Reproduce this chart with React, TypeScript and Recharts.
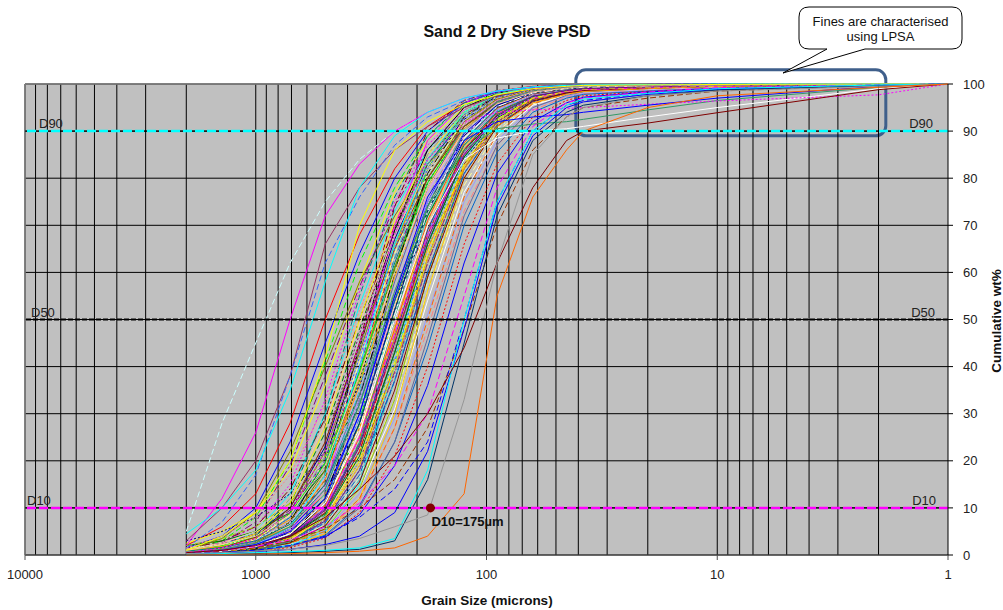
import React from "react";
import {
  LineChart,
  Line,
  XAxis,
  YAxis,
  CartesianGrid,
  ReferenceLine,
  ReferenceDot,
  ReferenceArea,
} from "recharts";

const FONT = "Arial, 'Liberation Sans', sans-serif";

// sieve apertures (µm), coarse to fine; the last few come from LPSA
const SIEVE_SIZES = [2000, 1400, 1000, 710, 500, 355, 250, 180, 125, 90, 63, 45, 38, 20, 10, 2, 1];

const X_TICKS = [10000, 1000, 100, 10, 1];
const Y_TICKS = [0, 10, 20, 30, 40, 50, 60, 70, 80, 90, 100];
const DECADES = [1, 10, 100, 1000];
const GRID_STEPS = [2, 3, 4, 5, 6, 7, 8, 9, 10];

// cumulative wt% at each sieve size, one row per sample
const MAIN_SAMPLES = [
  [2, 6, 13, 28, 50, 68, 82, 91, 96, 98.5, 99.5, 99.7, 99.8, 99.9, 100, 100, 100],
  [1.5, 4, 10, 24, 45, 64, 80, 90, 96, 98.3, 99.4, 99.7, 99.8, 99.9, 100, 100, 100],
  [1, 3, 8, 20, 41, 62, 78, 89, 95.5, 98, 99.2, 99.6, 99.7, 99.8, 99.9, 100, 100],
  [2.5, 5, 9, 18, 36, 58, 77, 88, 95, 97.8, 99, 99.5, 99.7, 99.8, 99.9, 100, 100],
  [1, 2.5, 6, 15, 33, 56, 75, 87, 94.5, 97.5, 99, 99.5, 99.6, 99.8, 99.9, 100, 100],
  [0.8, 2, 5, 13, 30, 53, 73, 86, 94, 97.5, 98.9, 99.4, 99.6, 99.7, 99.9, 100, 100],
  [1.2, 3, 6, 14, 29, 50, 70, 84, 93.5, 97.2, 98.8, 99.4, 99.6, 99.7, 99.8, 100, 100],
  [0.6, 1.8, 4, 11, 26, 48, 69, 84, 93, 97, 98.8, 99.3, 99.5, 99.7, 99.8, 100, 100],
  [1, 2, 4.5, 10, 23, 45, 67, 83, 92.5, 96.8, 98.7, 99.3, 99.5, 99.7, 99.8, 100, 100],
  [0.5, 1.5, 3.5, 9, 22, 43, 66, 82, 92, 96.5, 98.6, 99.2, 99.4, 99.6, 99.8, 100, 100],
  [1.5, 2.5, 4.5, 9.5, 20, 40, 63, 80, 91.5, 96.5, 98.6, 99.2, 99.5, 99.7, 99.8, 100, 100],
  [0.7, 1.6, 3.2, 8, 19, 39, 62, 80, 91, 96, 98.4, 99.1, 99.4, 99.6, 99.8, 100, 100],
  [0.4, 1.2, 2.8, 7, 17, 37, 61, 79, 91, 96, 98.3, 99, 99.3, 99.6, 99.8, 100, 100],
  [1, 2, 3.5, 7.5, 17, 36, 59, 78, 90.5, 95.8, 98.2, 99, 99.3, 99.6, 99.8, 100, 100],
  [0.5, 1.3, 2.7, 6.5, 16, 34, 58, 77, 90, 95.5, 98, 98.9, 99.2, 99.5, 99.7, 100, 100],
  [0.8, 1.5, 3, 6.5, 15, 33, 56, 76, 89.5, 95.3, 98, 98.9, 99.2, 99.5, 99.7, 100, 100],
  [0.3, 1, 2.4, 6, 14.5, 32, 55, 75, 89, 95, 97.8, 98.8, 99.1, 99.4, 99.7, 99.9, 100],
  [1.2, 2, 3.2, 6.2, 14, 30, 53, 74, 88.5, 94.8, 97.8, 98.7, 99, 99.4, 99.7, 99.9, 100],
  [0.6, 1.2, 2.5, 5.5, 13, 29, 52, 73, 88, 94.5, 97.6, 98.6, 99, 99.4, 99.6, 99.9, 100],
  [0.4, 1, 2, 5, 12, 28, 51, 72, 87.5, 94.3, 97.5, 98.6, 99, 99.3, 99.6, 99.9, 100],
  [0.9, 1.6, 2.6, 5.2, 11.5, 27, 49, 71, 87, 94, 97.5, 98.5, 98.9, 99.3, 99.6, 99.9, 100],
  [0.5, 1.1, 2.1, 4.6, 11, 26, 48, 70, 86.5, 93.8, 97.4, 98.5, 98.9, 99.3, 99.6, 99.9, 100],
  [0.3, 0.8, 1.8, 4.2, 10.5, 25, 47, 69, 86, 93.5, 97.2, 98.4, 98.8, 99.2, 99.6, 99.9, 100],
  [0.7, 1.3, 2.3, 4.5, 10, 24, 46, 68, 85.5, 93.3, 97.2, 98.4, 98.8, 99.2, 99.5, 99.9, 100],
  [0.4, 0.9, 1.7, 3.8, 9.5, 23, 44, 67, 85, 93, 97, 98.3, 98.7, 99.2, 99.5, 99.9, 100],
  [1, 1.5, 2.2, 4, 9, 22, 43, 66, 84.5, 92.8, 97, 98.3, 98.7, 99.1, 99.5, 99.9, 100],
  [0.3, 0.7, 1.5, 3.4, 8.5, 21, 42, 65, 84, 92.5, 96.8, 98.2, 98.6, 99.1, 99.5, 99.9, 100],
  [0.6, 1, 1.8, 3.6, 8, 20, 40, 63, 83, 92, 96.6, 98.1, 98.6, 99, 99.5, 99.9, 100],
  [0.2, 0.6, 1.3, 3, 7.5, 19, 38.5, 62, 82, 91.5, 96.4, 98, 98.5, 99, 99.4, 99.9, 100],
  [0.5, 0.9, 1.6, 3.2, 7.2, 18, 37, 60, 81, 91, 96.2, 97.9, 98.4, 98.9, 99.4, 99.9, 100],
  [0.3, 0.6, 1.2, 2.7, 6.5, 16.5, 35, 58, 80, 90.5, 96, 97.8, 98.3, 98.9, 99.4, 99.9, 100],
  [0.8, 1.2, 1.8, 3, 6.2, 15, 33, 56, 78.5, 90, 95.8, 97.7, 98.3, 98.8, 99.3, 99.9, 100],
  [0.2, 0.5, 1, 2.3, 5.5, 14, 31, 54, 77, 89, 95.5, 97.6, 98.2, 98.8, 99.3, 99.9, 100],
  [0.4, 0.7, 1.2, 2.4, 5.2, 13, 29, 51, 75, 88, 95, 97.4, 98, 98.7, 99.2, 99.9, 100],
  [0.2, 0.4, 0.9, 2, 4.6, 11.5, 27, 48, 73, 87, 94.5, 97.2, 97.9, 98.6, 99.2, 99.8, 100],
  [0.3, 0.6, 1, 2, 4.2, 10.5, 24, 44, 70, 85.5, 94, 97, 97.8, 98.5, 99.1, 99.8, 100],
  [0.2, 0.4, 0.8, 1.6, 3.6, 9, 21, 40, 66, 83, 93, 96.5, 97.5, 98.4, 99, 99.8, 100],
  [0.5, 0.8, 1.2, 2, 3.8, 8.5, 19, 36, 62, 81, 92, 96, 97.2, 98.3, 99, 99.8, 100],
  [0.5, 1, 2, 3.5, 8, 28, 60, 82, 94, 97.5, 99, 99.5, 99.7, 99.8, 99.9, 100, 100],
  [0.3, 0.6, 1, 2.5, 6, 22, 52, 78, 93, 97.5, 99, 99.5, 99.6, 99.8, 99.9, 100, 100],
  [1, 1.5, 2.5, 5, 14, 40, 70, 88, 96, 98.5, 99.4, 99.7, 99.8, 99.9, 100, 100, 100],
  [0.2, 0.5, 1, 2, 5, 15, 40, 68, 88, 95.5, 98.4, 99.2, 99.4, 99.6, 99.8, 100, 100],
  [0.4, 1, 2.2, 5.5, 16, 45, 74, 90, 96.5, 98.6, 99.4, 99.7, 99.8, 99.9, 100, 100, 100],
  [2, 3, 5, 9, 18, 34, 55, 72, 86, 93, 97, 98.5, 99, 99.4, 99.7, 99.9, 100],
  [3, 5, 8, 13, 22, 36, 54, 70, 84, 92, 96.5, 98.2, 98.8, 99.3, 99.6, 99.9, 100],
  [1, 3.5, 9, 22, 40, 58, 72, 83, 91, 95.5, 98, 99, 99.3, 99.6, 99.8, 100, 100],
  [0.8, 2.5, 7, 19, 38, 57, 74, 86, 94, 97.5, 99, 99.5, 99.7, 99.8, 99.9, 100, 100],
  [0.5, 1.5, 4, 12, 30, 55, 76, 89, 96, 98.5, 99.4, 99.7, 99.8, 99.9, 100, 100, 100],
  [0.3, 1, 2.5, 7, 20, 44, 69, 86, 95, 98, 99.2, 99.6, 99.7, 99.8, 99.9, 100, 100],
  [0.6, 1.3, 2.5, 6, 16, 38, 65, 84, 94, 97.8, 99.1, 99.5, 99.7, 99.8, 99.9, 100, 100],
  [0.4, 0.8, 1.5, 4, 11, 30, 58, 80, 92.5, 97, 98.8, 99.4, 99.6, 99.7, 99.9, 100, 100],
  [0.2, 0.5, 1.2, 3, 9, 26, 54, 77, 91.5, 96.5, 98.7, 99.3, 99.5, 99.7, 99.8, 100, 100],
  [0.7, 1.2, 2, 4, 10, 25, 50, 73, 89, 95.5, 98.3, 99.1, 99.4, 99.6, 99.8, 100, 100],
  [0.3, 0.7, 1.4, 3.2, 8, 21, 45, 70, 88, 95, 98, 99, 99.3, 99.6, 99.8, 100, 100],
  [0.5, 0.9, 1.5, 3, 7, 18, 41, 66, 86, 94.5, 97.8, 98.8, 99.2, 99.5, 99.7, 100, 100],
  [0.2, 0.5, 1, 2.4, 6, 16, 37, 63, 84, 93.5, 97.5, 98.7, 99.1, 99.4, 99.7, 99.9, 100],
  [0.4, 0.7, 1.2, 2.5, 5.5, 14, 33, 59, 82, 92.5, 97, 98.5, 99, 99.4, 99.7, 99.9, 100],
  [0.2, 0.4, 0.8, 1.8, 4.5, 12, 30, 56, 80, 91.5, 96.5, 98.3, 98.8, 99.3, 99.6, 99.9, 100],
  [0.6, 1, 1.5, 2.5, 5, 12, 27, 50, 76, 89.5, 95.8, 98, 98.6, 99.2, 99.6, 99.9, 100],
  [0.3, 0.5, 0.9, 1.8, 4, 10, 24, 46, 72, 87, 95, 97.6, 98.3, 99, 99.5, 99.9, 100],
];

// second sampling campaign, same sieve stack
const EXTRA_SAMPLES = [
  [0.8, 2, 4.5, 11, 27, 50, 71, 85, 94, 97.8, 99.2, 99.6, 99.7, 99.8, 99.9, 100, 100],
  [0.5, 1.4, 3.5, 9, 24, 47, 69, 84, 93.5, 97.5, 99, 99.5, 99.7, 99.8, 99.9, 100, 100],
  [1.2, 2.5, 5, 12, 28, 49, 68, 82, 92, 96.8, 98.8, 99.4, 99.6, 99.7, 99.9, 100, 100],
  [0.3, 1, 2.8, 8, 21, 44, 68, 85, 94.5, 98, 99.3, 99.6, 99.7, 99.8, 99.9, 100, 100],
  [0.6, 1.5, 3.2, 8.5, 20, 41, 64, 81, 92, 96.8, 98.7, 99.3, 99.5, 99.7, 99.8, 100, 100],
  [1, 2, 3.8, 8.8, 19.5, 39, 61, 79, 91, 96.2, 98.5, 99.2, 99.4, 99.6, 99.8, 100, 100],
  [0.4, 1.1, 2.6, 7, 18, 38, 61, 80, 92, 96.8, 98.8, 99.4, 99.6, 99.7, 99.9, 100, 100],
  [0.7, 1.5, 3, 7, 16.5, 35, 58, 77, 90, 95.8, 98.3, 99.1, 99.4, 99.6, 99.8, 100, 100],
  [0.3, 0.9, 2.2, 6, 15, 34, 58, 78, 91, 96.3, 98.6, 99.3, 99.5, 99.7, 99.8, 100, 100],
  [1.5, 2.2, 3.4, 6.5, 14, 31, 54, 74, 88.5, 95, 97.9, 98.8, 99.1, 99.4, 99.7, 99.9, 100],
  [0.5, 1.1, 2.3, 5.5, 13, 30, 54, 75, 89.5, 95.5, 98.2, 99, 99.3, 99.6, 99.8, 100, 100],
  [0.3, 0.8, 1.9, 4.8, 12, 28, 52, 74, 89, 95.5, 98.2, 99, 99.3, 99.6, 99.8, 100, 100],
  [0.8, 1.4, 2.5, 5, 11.5, 26, 49, 71, 87, 94.5, 97.8, 98.8, 99.1, 99.4, 99.7, 99.9, 100],
  [0.4, 0.9, 1.9, 4.4, 10.5, 25, 48, 71, 87.5, 94.8, 98, 98.9, 99.2, 99.5, 99.7, 99.9, 100],
  [0.6, 1.1, 2, 4.2, 9.8, 23.5, 46, 69, 86, 94, 97.6, 98.7, 99, 99.4, 99.7, 99.9, 100],
  [0.2, 0.6, 1.4, 3.5, 9, 22, 45, 68, 86, 94, 97.7, 98.8, 99.1, 99.5, 99.7, 99.9, 100],
  [0.5, 1, 1.8, 3.8, 8.8, 21, 43, 66, 84.5, 93.2, 97.3, 98.6, 99, 99.3, 99.6, 99.9, 100],
  [0.3, 0.7, 1.5, 3.4, 8.2, 20, 42, 65, 84, 93, 97.3, 98.5, 98.9, 99.3, 99.6, 99.9, 100],
  [0.9, 1.3, 2, 3.6, 7.8, 19, 40, 63, 82.5, 92, 96.9, 98.3, 98.8, 99.2, 99.6, 99.9, 100],
  [0.2, 0.5, 1.2, 3, 7.2, 18, 39, 62, 82, 92, 96.8, 98.3, 98.8, 99.2, 99.6, 99.9, 100],
  [0.4, 0.8, 1.4, 3, 6.8, 17, 37, 60, 81, 91.3, 96.5, 98.1, 98.6, 99.1, 99.5, 99.9, 100],
  [0.3, 0.6, 1.1, 2.6, 6.2, 15.5, 35, 59, 80, 91, 96.4, 98.1, 98.6, 99.1, 99.5, 99.9, 100],
  [1, 1.8, 3, 6, 13, 27, 46, 65, 82, 91, 96, 97.8, 98.4, 99, 99.5, 99.9, 100],
  [2, 3.5, 6, 11, 21, 37, 56, 73, 87, 94, 97.6, 98.8, 99.1, 99.5, 99.7, 99.9, 100],
  [0.5, 1.5, 3.8, 10, 24, 45, 65, 80, 91, 96, 98.4, 99.2, 99.4, 99.6, 99.8, 100, 100],
  [1.5, 4, 8, 17, 32, 52, 70, 84, 93, 97, 98.8, 99.4, 99.6, 99.7, 99.9, 100, 100],
  [0.3, 0.8, 2, 6, 17, 40, 66, 84, 94, 97.8, 99.2, 99.6, 99.7, 99.8, 99.9, 100, 100],
  [0.2, 0.5, 1.3, 4, 12, 33, 60, 81, 93, 97.5, 99, 99.5, 99.6, 99.8, 99.9, 100, 100],
  [0.4, 0.8, 1.6, 4.5, 13, 35, 63, 83, 93.5, 97.6, 99.1, 99.5, 99.7, 99.8, 99.9, 100, 100],
  [0.2, 0.4, 1, 2.8, 8, 24, 50, 74, 90, 96, 98.5, 99.2, 99.4, 99.6, 99.8, 100, 100],
  [0.6, 1.2, 2.4, 5.5, 14, 33, 56, 75, 88, 94.5, 97.6, 98.7, 99, 99.4, 99.7, 99.9, 100],
  [0.3, 0.7, 1.6, 4, 10, 25, 47, 68, 85, 93, 97, 98.4, 98.8, 99.2, 99.6, 99.9, 100],
  [0.8, 1.6, 3, 6.5, 15, 32, 54, 73, 87, 94, 97.4, 98.6, 99, 99.4, 99.7, 99.9, 100],
  [0.4, 1.2, 3, 8, 20, 42, 65, 82, 93, 97.2, 98.9, 99.4, 99.6, 99.7, 99.9, 100, 100],
  [0.2, 0.6, 1.5, 4, 11, 28, 52, 73, 88, 95, 98, 98.9, 99.2, 99.5, 99.7, 99.9, 100],
  [0.5, 1, 2, 4.5, 11, 27, 51, 73, 88.5, 95.2, 98.1, 99, 99.3, 99.5, 99.7, 99.9, 100],
  [0.3, 0.7, 1.4, 3.2, 8, 20, 41, 64, 83, 92.5, 97, 98.5, 98.9, 99.3, 99.6, 99.9, 100],
  [0.4, 0.9, 1.8, 4, 9.5, 23, 45, 67, 85, 93.5, 97.4, 98.6, 99, 99.4, 99.7, 99.9, 100],
  [1, 2.2, 4, 8.5, 19, 38, 60, 78, 90, 95.8, 98.3, 99.1, 99.4, 99.6, 99.8, 100, 100],
  [0.6, 1.3, 2.6, 6, 14, 31, 55, 76, 90, 96, 98.5, 99.2, 99.4, 99.6, 99.8, 100, 100],
];

// samples lying at the coarse and fine edges of the envelope
const EDGE_SAMPLES = [
  [5, 28, 45, 62, 75, 84, 90, 94, 97, 98.5, 99.3, 99.6, 99.7, 99.8, 99.9, 100, 100],
  [2, 12, 26, 50, 72, 83, 90, 94, 97, 98.5, 99.3, 99.6, 99.7, 99.8, 99.9, 100, 100],
  [3, 10, 20, 38, 66, 78, 86, 91, 95, 97.5, 99, 99.5, 99.7, 99.8, 99.9, 100, 100],
  [1.5, 7, 17, 38, 62, 76, 87, 93, 96.5, 98.5, 99.3, 99.6, 99.7, 99.8, 99.9, 100, 100],
  [4.5, 10, 18, 35, 58, 78, 89, 94, 97, 98.5, 99.4, 99.7, 99.8, 99.9, 100, 100, 100],
  [1, 4, 9, 20, 42, 70, 86, 92, 95.7, 97.7, 99, 99.5, 99.7, 99.8, 99.9, 100, 100],
  [0.5, 1.2, 2.5, 6, 14, 32, 56, 74, 86, 90.5, 91.5, 92, 92.5, 94.5, 96.5, 99.3, 100],
  [0.3, 0.8, 1.8, 4.5, 11, 26, 50, 70, 84, 88.5, 90, 90.5, 91, 93, 95, 99, 100],
  [0.5, 1.5, 3.5, 9, 22, 45, 68, 84, 92, 94, 94.5, 94.8, 95, 95.7, 96.4, 97.7, 100],
  [0.4, 1, 2.2, 5, 12, 30, 55, 76, 88, 92, 93, 93.5, 94, 95.5, 97, 99.5, 100],
  [0.4, 0.8, 1.5, 3, 5.5, 10, 16, 27, 48, 70, 86, 93, 95, 97, 98.5, 99.7, 100],
  [0.3, 0.6, 1, 2, 4, 8, 14, 24, 50, 75, 90, 95.5, 96.5, 98, 99, 99.8, 100],
  [0.5, 1, 1.8, 3.2, 6, 11, 19, 30, 55, 78, 91, 96, 97, 98.3, 99.2, 99.8, 100],
  [0.2, 0.4, 0.7, 1.2, 2.2, 4, 9, 22, 48, 74, 89, 95, 96.2, 97.8, 98.8, 99.7, 100],
  [0.1, 0.2, 0.3, 0.5, 0.8, 1.2, 3, 16, 45, 72, 88, 94, 95.5, 97.5, 98.7, 99.7, 100],
  [0.2, 0.3, 0.5, 0.7, 1, 1.5, 3.5, 18, 50, 75, 90, 95.5, 96.8, 98, 99, 99.8, 100],
  [0.5, 1, 2, 4, 8, 14, 21, 30, 44, 62, 78, 88, 90, 91.7, 93.9, 98.8, 100],
  [0.3, 0.5, 0.8, 1.2, 2, 3.5, 6, 8.5, 33, 62, 85, 93, 95, 97.5, 98.5, 99.5, 100],
  [0, 0.1, 0.2, 0.3, 0.5, 0.8, 1.5, 4, 13, 55, 76, 86, 90, 95, 97.5, 99.3, 100],
];

const EDGE_COLORS = [
  "#CCFFFF", "#FF00FF", "#993366", "#3366FF", "#00FFFF", "#FFFF00", "#339966",
  "#FFFFFF", "#FF00FF", "#0000FF", "#993300", "#0000FF", "#FF00FF", "#0000FF",
  "#003366", "#00FFFF", "#800000", "#969696", "#FF6600",
];
const EDGE_DASHES = [
  "6 3", "", "", "6 3", "", "", "", "", "2 2", "", "6 3", "6 3", "6 3", "", "", "", "", "", "",
];

const PALETTE = [
  "#FF0000", "#0000FF", "#00FF00", "#FFFF00", "#FF00FF", "#00FFFF", "#800000", "#008000",
  "#000080", "#808000", "#800080", "#008080", "#000000", "#FF9900", "#99CCFF", "#FF99CC",
  "#CC99FF", "#FFCC99", "#3366FF", "#33CCCC", "#99CC00", "#FFCC00", "#FF6600", "#666699",
  "#969696", "#003366", "#339966", "#993300", "#993366", "#333399", "#CCFFCC", "#FFFF99",
  "#FFFFFF", "#9999FF", "#FF8080", "#0066CC",
];
const DASHES = ["", "", "6 3", "", "2 2", "", "8 3 2 3", "6 3"];

const GRID_SIZES = DECADES.flatMap((d) => GRID_STEPS.map((s) => d * s));

const toPoints = (values: number[]) =>
  SIEVE_SIZES.map((size, i) => ({ size, pct: values[i] }));

function DLabel({ viewBox, name, left, right }: any) {
  if (!viewBox) return null;
  const y = viewBox.y - 3;
  return (
    <g fontFamily={FONT} fontSize={13} fill="#222">
      <text x={viewBox.x + left} y={y}>{name}</text>
      <text x={viewBox.x + viewBox.width - right} y={y} textAnchor="end">{name}</text>
    </g>
  );
}

function DotLabel({ viewBox }: any) {
  if (!viewBox) return null;
  const cx = viewBox.x + viewBox.width / 2;
  const cy = viewBox.y + viewBox.height / 2;
  return (
    <text x={cx + 1} y={cy + 18} fontFamily={FONT} fontSize={13} fontWeight="bold" fill="#111">
      D10=175µm
    </text>
  );
}

function RoundedBox(props: any) {
  const x = Math.min(props.x, props.x + props.width);
  const y = Math.min(props.y, props.y + props.height);
  return (
    <rect
      x={x}
      y={y}
      width={Math.abs(props.width)}
      height={Math.abs(props.height)}
      rx={10}
      fill="none"
      stroke="#3F5F8B"
      strokeWidth={3}
    />
  );
}

function sampleLine(key: string, values: number[], color: string, dash: string) {
  return (
    <Line
      key={key}
      data={toPoints(values)}
      dataKey="pct"
      type="linear"
      stroke={color}
      strokeDasharray={dash}
      strokeWidth={1}
      dot={false}
      activeDot={false}
      isAnimationActive={false}
    />
  );
}

export default function App() {
  return (
    <div style={{ position: "absolute", left: 0, top: 0, width: 1003, height: 610, background: "#fff" }}>
      <LineChart
        width={1003}
        height={610}
        margin={{ top: 84, right: 0, bottom: 10, left: 25 }}
      >
        <CartesianGrid fill="#C0C0C0" stroke="#000" vertical={false} />
        <XAxis
          type="number"
          dataKey="size"
          scale="log"
          domain={[1, 10000]}
          reversed
          allowDataOverflow
          ticks={X_TICKS}
          height={45}
          tickSize={5}
          tickMargin={10}
          tick={{ fontSize: 13, fill: "#222", fontFamily: FONT }}
          axisLine={{ stroke: "#505050" }}
          tickLine={{ stroke: "#505050" }}
        />
        <YAxis
          orientation="right"
          type="number"
          domain={[0, 100]}
          ticks={Y_TICKS}
          width={55}
          tickSize={5}
          tickMargin={10}
          tick={{ fontSize: 13, fill: "#222", fontFamily: FONT }}
          axisLine={{ stroke: "#000" }}
          tickLine={{ stroke: "#000" }}
        />
        {/* log-scale vertical grid, 2..10 in every decade */}
        {GRID_SIZES.map((v) => (
          <ReferenceLine key={"g" + v} x={v} stroke="#000" strokeWidth={1} />
        ))}
        <ReferenceLine x={10000} stroke="#808080" strokeWidth={1.5} />
        <ReferenceLine y={100} stroke="#808080" strokeWidth={1.5} />

        {MAIN_SAMPLES.map((values, i) =>
          sampleLine("m" + i, values, PALETTE[i % PALETTE.length], DASHES[i % DASHES.length])
        )}
        {EXTRA_SAMPLES.map((values, i) =>
          sampleLine(
            "x" + i,
            values,
            PALETTE[(i * 7 + 3) % PALETTE.length],
            DASHES[(i + 3) % DASHES.length]
          )
        )}
        {EDGE_SAMPLES.map((values, i) => sampleLine("e" + i, values, EDGE_COLORS[i], EDGE_DASHES[i]))}

        <ReferenceLine y={90} stroke="#000" strokeWidth={1} />
        <ReferenceLine
          y={90}
          stroke="#00FFFF"
          strokeWidth={2.5}
          strokeDasharray="9 3"
          label={<DLabel name="D90" left={14} right={15} />}
        />
        <ReferenceLine
          y={50}
          stroke="#000"
          strokeWidth={2}
          strokeDasharray="5 2"
          label={<DLabel name="D50" left={6} right={13} />}
        />
        <ReferenceLine y={10} stroke="#000" strokeWidth={1} />
        <ReferenceLine
          y={10}
          stroke="#FF00FF"
          strokeWidth={2.5}
          strokeDasharray="9 3"
          label={<DLabel name="D10" left={2} right={12} />}
        />
        <ReferenceDot x={175} y={10} r={4.5} fill="#800000" stroke="none" label={<DotLabel />} />
        <ReferenceArea
          x1={41}
          x2={1.86}
          y1={89}
          y2={103}
          ifOverflow="visible"
          shape={<RoundedBox />}
        />
      </LineChart>

      <svg
        width={1003}
        height={610}
        style={{ position: "absolute", left: 0, top: 0, pointerEvents: "none" }}
        fontFamily={FONT}
      >
        <text x={507} y={37} textAnchor="middle" fontSize={16} fontWeight="bold" fill="#111">
          Sand 2 Dry Sieve PSD
        </text>
        <text x={487} y={605} textAnchor="middle" fontSize={13.5} fontWeight="bold" fill="#111">
          Grain Size (microns)
        </text>
        <text
          x={0}
          y={0}
          transform="translate(1001 321) rotate(-90)"
          textAnchor="middle"
          fontSize={13.5}
          fontWeight="bold"
          fill="#111"
        >
          Cumulative wt%
        </text>
        <path
          d="M 809 7 H 952 Q 962 7 962 17 V 39 Q 962 49 952 49 H 865 L 783 73 L 827 49 H 809 Q 799 49 799 39 V 17 Q 799 7 809 7 Z"
          fill="#fff"
          stroke="#000"
          strokeWidth={1}
        />
        <text x={880.5} y={26} textAnchor="middle" fontSize={13} fill="#111">
          Fines are characterised
        </text>
        <text x={880.5} y={41} textAnchor="middle" fontSize={13} fill="#111">
          using LPSA
        </text>
      </svg>
    </div>
  );
}
